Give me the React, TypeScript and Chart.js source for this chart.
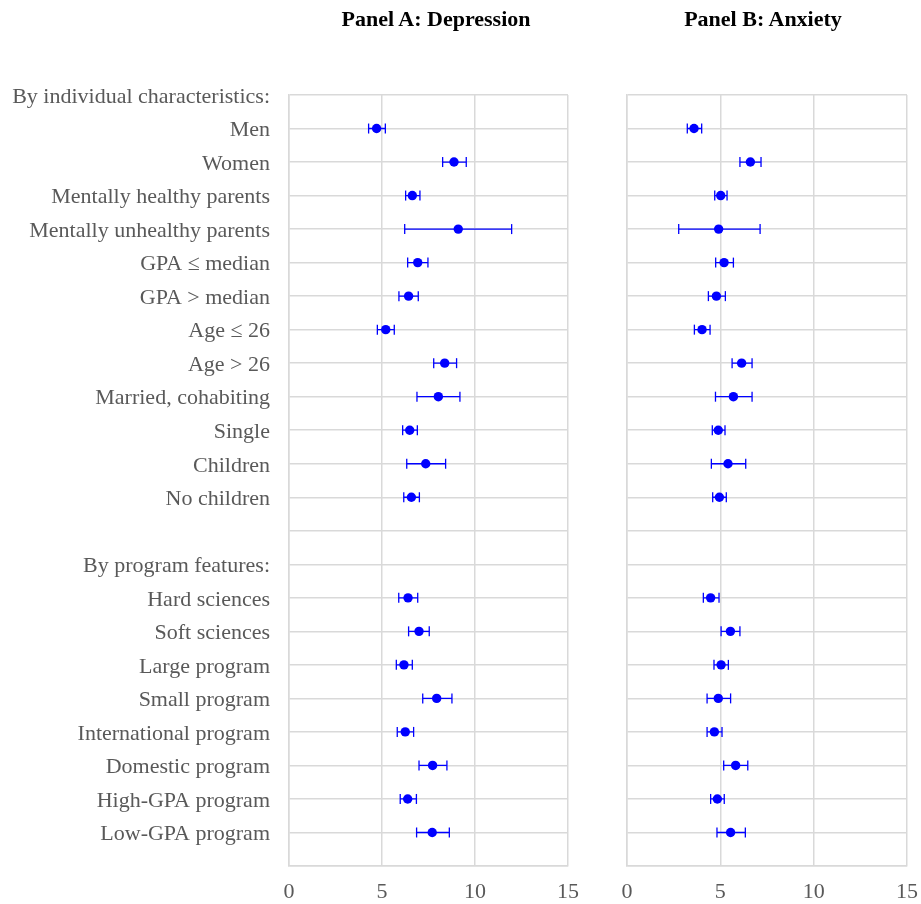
import React, { useEffect, useRef } from "react";
import { Chart, registerables } from "chart.js";

Chart.register(...registerables);

const categories = [
  "By individual characteristics:",
  "Men",
  "Women",
  "Mentally healthy parents",
  "Mentally unhealthy parents",
  "GPA ≤ median",
  "GPA > median",
  "Age ≤ 26",
  "Age > 26",
  "Married, cohabiting",
  "Single",
  "Children",
  "No children",
  "",
  "By program features:",
  "Hard sciences",
  "Soft sciences",
  "Large program",
  "Small program",
  "International program",
  "Domestic program",
  "High-GPA program",
  "Low-GPA program",
];

const depMean = [null, 4.71, 8.87, 6.63, 9.10, 6.92, 6.43, 5.20, 8.37, 8.03, 6.49, 7.35, 6.58, null, null, 6.40, 6.99, 6.18, 7.94, 6.25, 7.72, 6.38, 7.70];
const depLow = [null, 4.28, 8.26, 6.27, 6.22, 6.38, 5.91, 4.75, 7.78, 6.88, 6.11, 6.33, 6.17, null, null, 5.90, 6.43, 5.77, 7.19, 5.82, 6.99, 5.98, 6.86];
const depHigh = [null, 5.18, 9.53, 7.04, 11.97, 7.47, 6.95, 5.66, 9.01, 9.19, 6.90, 8.42, 7.01, null, null, 6.92, 7.54, 6.63, 8.76, 6.70, 8.49, 6.85, 8.62];

const anxMean = [null, 3.59, 6.61, 5.02, 4.91, 5.20, 4.79, 4.02, 6.14, 5.70, 4.89, 5.41, 4.95, null, null, 4.48, 5.54, 5.04, 4.89, 4.68, 5.82, 4.84, 5.55];
const anxLow = [null, 3.23, 6.05, 4.70, 2.77, 4.75, 4.36, 3.61, 5.63, 4.74, 4.57, 4.52, 4.59, null, null, 4.09, 5.04, 4.66, 4.29, 4.29, 5.18, 4.48, 4.82];
const anxHigh = [null, 4.00, 7.18, 5.36, 7.13, 5.70, 5.27, 4.45, 6.70, 6.70, 5.25, 6.36, 5.32, null, null, 4.93, 6.05, 5.43, 5.55, 5.09, 6.47, 5.21, 6.34];

const xTickValues = [0, 5, 10, 15];

const FONT = "'Liberation Serif', 'Times New Roman', serif";
const GRID = "#d9d9d9";
const TEXT = "#595959";
const BLUE = "#0000ff";

type Num = number | null;

function buildDatasets(mean: Num[], low: Num[], high: Num[]) {
  const dots: any[] = [];
  const lows: any[] = [];
  const highs: any[] = [];
  const whiskers: any[] = [];
  mean.forEach((m, i) => {
    if (m === null) return;
    dots.push({ x: m, y: i });
    lows.push({ x: low[i], y: i });
    highs.push({ x: high[i], y: i });
    whiskers.push({ x: low[i], y: i });
    whiskers.push({ x: high[i], y: i });
    whiskers.push({ x: null, y: null });
  });
  return [
    {
      data: dots,
      order: 0,
      pointRadius: 4.7,
      pointBackgroundColor: BLUE,
      pointBorderWidth: 0,
      showLine: false,
    },
    {
      data: lows,
      order: 1,
      pointStyle: "line",
      rotation: 90,
      pointRadius: 5,
      pointBorderColor: BLUE,
      pointBorderWidth: 1.3,
      showLine: false,
    },
    {
      data: highs,
      order: 1,
      pointStyle: "line",
      rotation: 90,
      pointRadius: 5,
      pointBorderColor: BLUE,
      pointBorderWidth: 1.3,
      showLine: false,
    },
    {
      data: whiskers,
      order: 2,
      showLine: true,
      spanGaps: false,
      borderColor: BLUE,
      borderWidth: 1.3,
      pointRadius: 0,
    },
  ];
}

function Panel(props: {
  mean: Num[];
  low: Num[];
  high: Num[];
  showLabels: boolean;
  left: number;
  width: number;
  yAxisWidth: number;
  padRight: number;
}) {
  const ref = useRef<HTMLCanvasElement | null>(null);
  useEffect(() => {
    if (!ref.current) return;
    const chart = new Chart(ref.current, {
      type: "scatter",
      data: { datasets: buildDatasets(props.mean, props.low, props.high) as any },
      options: {
        animation: false,
        responsive: false,
        maintainAspectRatio: false,
        layout: { padding: { left: 0, top: 95, right: props.padRight, bottom: 0 } },
        plugins: { legend: { display: false }, tooltip: { enabled: false } },
        scales: {
          x: {
            type: "linear",
            min: 0,
            max: 15,
            afterBuildTicks: (scale: any) => {
              scale.ticks = xTickValues.map((v) => ({ value: v }));
            },
            afterFit: (scale: any) => {
              scale.height = 38;
              scale.paddingLeft = 0;
              scale.paddingRight = 0;
            },
            ticks: {
              color: TEXT,
              font: { family: FONT, size: 22 },
              padding: 13,
              maxRotation: 0,
            },
            grid: { color: GRID, lineWidth: 1.5, drawTicks: false },
            border: { display: true, color: GRID, width: 1.5 },
          },
          y: {
            type: "linear",
            min: 0,
            max: categories.length,
            reverse: true,
            afterFit: (scale: any) => {
              scale.width = props.yAxisWidth;
              scale.paddingTop = 0;
              scale.paddingBottom = 0;
            },
            ticks: {
              display: props.showLabels,
              stepSize: 1,
              autoSkip: false,
              color: TEXT,
              font: { family: FONT, size: 22 },
              padding: 19,
              labelOffset: 2,
              callback: (v: any) => {
                const idx = Number(v);
                return idx < categories.length ? categories[idx] : "";
              },
            },
            grid: { color: GRID, lineWidth: 1.5, drawTicks: false },
            border: { display: true, color: GRID, width: 1.5 },
          },
        },
      } as any,
    });
    return () => chart.destroy();
  }, []);
  return (
    <canvas
      ref={ref}
      width={props.width}
      height={904}
      style={{ position: "absolute", left: props.left, top: 0, width: props.width, height: 904 }}
    />
  );
}

const titleStyle: React.CSSProperties = {
  position: "absolute",
  top: 6,
  width: 260,
  textAlign: "center",
  fontFamily: FONT,
  fontWeight: "bold",
  fontSize: 22,
  lineHeight: "26px",
  color: "#000",
  whiteSpace: "nowrap",
};

export default function App() {
  return (
    <div style={{ position: "absolute", left: 0, top: 0, width: 921, height: 904, background: "#fff" }}>
      <Panel mean={depMean} low={depLow} high={depHigh} showLabels={true} left={0} width={580} yAxisWidth={289} padRight={12} />
      <Panel mean={anxMean} low={anxLow} high={anxHigh} showLabels={false} left={600} width={321} yAxisWidth={27} padRight={14} />
      <div style={{ ...titleStyle, left: 436 - 130 }}>Panel A: Depression</div>
      <div style={{ ...titleStyle, left: 763 - 130 }}>Panel B: Anxiety</div>
    </div>
  );
}
